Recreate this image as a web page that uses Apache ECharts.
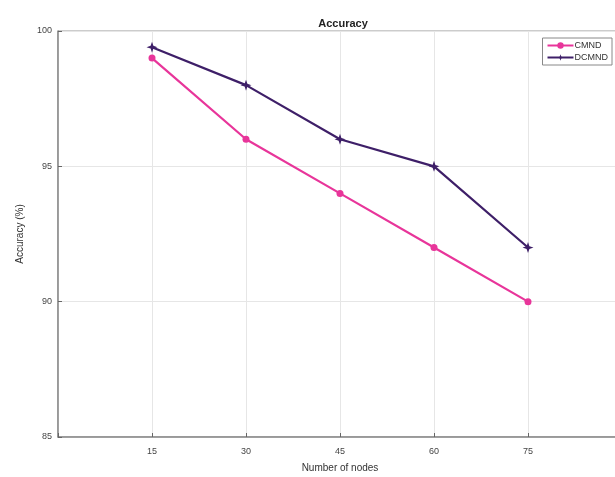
<!DOCTYPE html>
<html>
<head>
<meta charset="utf-8">
<script src="https://cdn.jsdelivr.net/npm/echarts@6/dist/echarts.min.js"></script>
<style>html,body{margin:0;padding:0;background:#fff;}#c{width:615px;height:477px;}</style>
</head>
<body>
<div id="c"></div>
<script>
const nodes = [15, 30, 45, 60, 75];
const cmnd = [99, 96, 94, 92, 90];
const dcmnd = [99.4, 98, 96, 95, 92];
const seriesNames = ['CMND', 'DCMND'];

const chart = echarts.init(document.getElementById('c'), null, {renderer: 'canvas'});
const font = 'Liberation Sans, Arial, sans-serif';
const star = 'path://M0,-10 L2.5,-2.5 L10,0 L2.5,2.5 L0,10 L-2.5,2.5 L-10,0 L-2.5,-2.5 Z';
chart.setOption({
  animation: false,
  backgroundColor: '#fff',
  title: {
    text: 'Accuracy', left: 338, top: 13, textAlign: 'center',
    textStyle: {fontFamily: font, fontSize: 11, fontWeight: 'bold', color: '#222'}
  },
  legend: {
    orient: 'vertical', right: 3, top: 38,
    itemWidth: 26, itemHeight: 8, itemGap: 3,
    padding: [3, 4, 3, 4],
    borderColor: '#888', borderWidth: 1, backgroundColor: '#fff',
    textStyle: {fontFamily: font, fontSize: 9, color: '#333', padding: [0, 0, 0, -4]},
    data: seriesNames
  },
  grid: {left: 58, width: 564, top: 31, height: 406, outerBoundsMode: 'none', containLabel: false,
    show: true, borderColor: '#999', borderWidth: 1},
  xAxis: {
    type: 'value', min: 0, max: 90, interval: 15,
    name: 'Number of nodes', nameLocation: 'middle', nameGap: 26,
    nameTextStyle: {fontFamily: font, fontSize: 10, color: '#333'},
    axisLine: {show: true, onZero: false, lineStyle: {color: '#888', width: 1.5}},
    axisTick: {show: true, inside: true, length: 4, lineStyle: {color: '#666'}},
    axisLabel: {fontFamily: font, fontSize: 9, color: '#444', margin: 10,
      formatter: v => (v === 0 || v === 90) ? '' : String(v)},
    splitLine: {show: true, lineStyle: {color: '#e6e6e6', width: 1}}
  },
  yAxis: {
    type: 'value', min: 85, max: 100, interval: 5,
    name: 'Accuracy (%)', nameLocation: 'middle', nameGap: 33,
    nameTextStyle: {fontFamily: font, fontSize: 10, color: '#333'},
    axisLine: {show: true, lineStyle: {color: '#888', width: 1.5}},
    axisTick: {show: true, inside: true, length: 4, lineStyle: {color: '#666'}},
    axisLabel: {fontFamily: font, fontSize: 9, color: '#444', margin: 6},
    splitLine: {show: true, lineStyle: {color: '#e6e6e6', width: 1}}
  },
  series: [
    {
      name: seriesNames[0], type: 'line',
      data: nodes.map((x, i) => [x, cmnd[i]]),
      symbol: 'circle', symbolSize: 7,
      itemStyle: {color: '#e8359a'},
      lineStyle: {color: '#e8359a', width: 2.2}
    },
    {
      name: seriesNames[1], type: 'line',
      data: nodes.map((x, i) => [x, dcmnd[i]]),
      symbol: star, symbolSize: 11,
      itemStyle: {color: '#3e1f68'},
      lineStyle: {color: '#3e1f68', width: 2.2}
    }
  ]
});
</script>
</body>
</html>
